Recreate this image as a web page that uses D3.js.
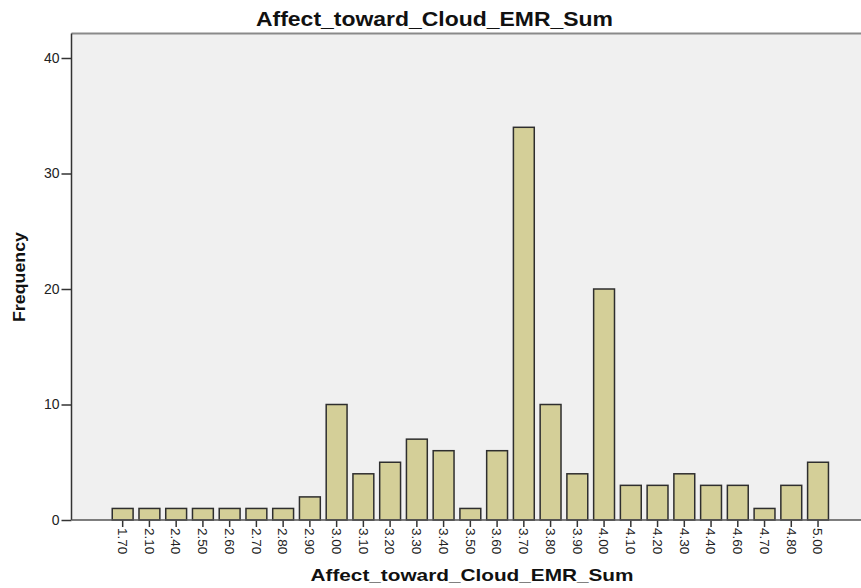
<!DOCTYPE html>
<html><head><meta charset="utf-8">
<script src="https://cdn.jsdelivr.net/npm/d3@7"></script>
<style>body{margin:0;background:#fff;}svg{display:block;font-family:Arial,"Liberation Sans",sans-serif;}</style>
</head><body>
<svg id="c" width="861" height="588"></svg>
<script>
const categories = ["1.70","2.10","2.40","2.50","2.60","2.70","2.80","2.90","3.00","3.10","3.20","3.30","3.40","3.50","3.60","3.70","3.80","3.90","4.00","4.10","4.20","4.30","4.40","4.60","4.70","4.80","5.00"];
const frequencies = [1,1,1,1,1,1,1,2,10,4,5,7,6,1,6,34,10,4,20,3,3,4,3,3,1,3,5];
const yTicks = [0,10,20,30,40];
const titleText = "Affect_toward_Cloud_EMR_Sum";
const xLabel = "Affect_toward_Cloud_EMR_Sum";
const yLabel = "Frequency";

const svg = d3.select("#c");
const plotL = 71.5, plotR = 861, plotT = 33.5, plotB = 520;

const y = d3.scaleLinear().domain([0, 40]).range([plotB, plotB - 462]);
const x = d3.scaleBand().domain(categories).range([109.3, 831.4]).paddingInner(0.22).paddingOuter(0.11);

svg.append("rect").attr("x", plotL).attr("y", plotT).attr("width", plotR - plotL).attr("height", plotB - plotT).attr("fill", "#f0f0f0");
svg.append("line").attr("x1", plotL).attr("x2", plotR).attr("y1", plotT).attr("y2", plotT).attr("stroke", "#8a8a8a").attr("stroke-width", 2);

svg.append("g").selectAll("rect").data(frequencies).join("rect")
  .attr("x", (d, i) => x(categories[i]))
  .attr("y", d => y(d))
  .attr("width", x.bandwidth())
  .attr("height", d => y(0) - y(d))
  .attr("fill", "#d4cf98")
  .attr("stroke", "#2e2e2e")
  .attr("stroke-width", 1.5);

const yAxis = svg.append("g").attr("transform", `translate(${plotL},0)`)
  .call(d3.axisLeft(y).tickValues(yTicks).tickSize(10).tickPadding(2));
yAxis.select(".domain").attr("stroke", "#333").attr("stroke-width", 1.5).attr("d", `M0,${plotT}V${plotB}`);
yAxis.selectAll(".tick line").attr("stroke", "#333").attr("stroke-width", 1.5);
yAxis.selectAll(".tick text").attr("font-size", 14).attr("fill", "#222").attr("font-family", "Arial,'Liberation Sans',sans-serif");

const xAxis = svg.append("g").attr("transform", `translate(0,${plotB})`)
  .call(d3.axisBottom(x).tickSize(7).tickPadding(2));
xAxis.select(".domain").remove();
svg.append("line").attr("x1", plotL).attr("x2", plotR).attr("y1", plotB).attr("y2", plotB).attr("stroke", "#555").attr("stroke-width", 1.5);
xAxis.selectAll(".tick line").attr("stroke", "#333").attr("stroke-width", 1.5);
xAxis.selectAll(".tick text")
  .attr("font-size", 13.5).attr("fill", "#222").attr("font-family", "Arial,'Liberation Sans',sans-serif")
  .attr("transform", "rotate(90)").attr("text-anchor", "start").attr("dy", "0.35em").attr("x", 8).attr("y", 0);

svg.append("text").attr("x", 434.5).attr("y", 26).attr("text-anchor", "middle")
  .attr("font-size", 21).attr("font-weight", "bold").attr("fill", "#111")
  .attr("textLength", 357).attr("lengthAdjust", "spacingAndGlyphs").text(titleText);
svg.append("text").attr("x", 472).attr("y", 581).attr("text-anchor", "middle")
  .attr("font-size", 17).attr("font-weight", "bold").attr("fill", "#111")
  .attr("textLength", 323).attr("lengthAdjust", "spacingAndGlyphs").text(xLabel);
svg.append("text").attr("transform", "translate(25,277) rotate(-90)").attr("text-anchor", "middle")
  .attr("font-size", 16.5).attr("font-weight", "bold").attr("fill", "#111")
  .attr("textLength", 90).attr("lengthAdjust", "spacingAndGlyphs").text(yLabel);
</script>
</body></html>
